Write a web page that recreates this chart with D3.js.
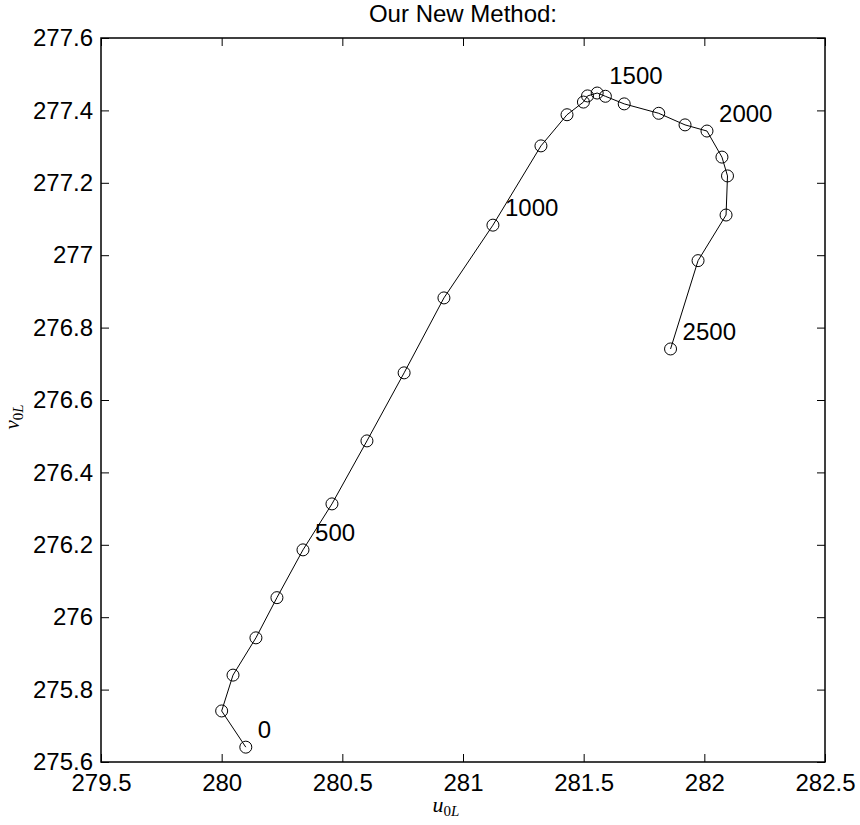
<!DOCTYPE html>
<html>
<head>
<meta charset="utf-8">
<script src="https://cdn.jsdelivr.net/npm/d3@7"></script>
<style>
  html, body { margin: 0; padding: 0; background: #fff; }
  svg { display: block; }
  .sans { font-family: "Liberation Sans", Arial, Helvetica, sans-serif; }
</style>
</head>
<body>
<script>
// Trajectory of (u0L, v0L) sampled every 100 iterations
const iterations = [0, 100, 200, 300, 400, 500, 600, 700, 800, 900, 1000, 1100, 1200,
                    1300, 1400, 1500, 1600, 1700, 1800, 1900, 2000, 2100, 2200, 2300, 2400, 2500];
const uValues = [280.100, 280.000, 280.047, 280.142, 280.229, 280.337, 280.457, 280.602,
                 280.756, 280.921, 281.124, 281.323, 281.431, 281.499, 281.516, 281.556,
                 281.590, 281.668, 281.811, 281.920, 282.011, 282.073, 282.096, 282.090,
                 281.974, 281.860];
const vValues = [275.641, 275.741, 275.840, 275.943, 276.054, 276.186, 276.313, 276.487,
                 276.675, 276.882, 277.083, 277.302, 277.388, 277.423, 277.440, 277.448,
                 277.439, 277.418, 277.392, 277.360, 277.343, 277.271, 277.219, 277.111,
                 276.985, 276.741];
const labeledIterations = [0, 500, 1000, 1500, 2000, 2500];
const xTicks = [279.5, 280, 280.5, 281, 281.5, 282, 282.5];
const yTicks = [275.6, 275.8, 276, 276.2, 276.4, 276.6, 276.8, 277, 277.2, 277.4, 277.6];

const W = 860, H = 825;
const plotL = 101, plotR = 825, plotT = 38, plotB = 762;
const tickLen = 8;

const svg = d3.select("body").append("svg").attr("width", W).attr("height", H);

const x = d3.scaleLinear().domain([279.5, 282.5]).range([plotL, plotR]);
const y = d3.scaleLinear().domain([275.6, 277.6]).range([plotB, plotT]);
const fmt = v => String(+v.toFixed(1));

// Axes with inward ticks on all four sides
const gx = svg.append("g").attr("transform", `translate(0,${plotB})`)
  .call(d3.axisBottom(x).tickValues(xTicks).tickFormat(fmt)
        .tickSizeInner(-tickLen).tickSizeOuter(0).tickPadding(12));
const gy = svg.append("g").attr("transform", `translate(${plotL},0)`)
  .call(d3.axisLeft(y).tickValues(yTicks).tickFormat(fmt)
        .tickSizeInner(-tickLen).tickSizeOuter(0).tickPadding(8));
const gt = svg.append("g").attr("transform", `translate(0,${plotT})`)
  .call(d3.axisTop(x).tickValues(xTicks).tickFormat("")
        .tickSizeInner(-tickLen).tickSizeOuter(0));
const gr = svg.append("g").attr("transform", `translate(${plotR},0)`)
  .call(d3.axisRight(y).tickValues(yTicks).tickFormat("")
        .tickSizeInner(-tickLen).tickSizeOuter(0));

[gx, gy, gt, gr].forEach(g => {
  g.select(".domain").remove();
  g.selectAll(".tick line").attr("stroke", "#000").attr("stroke-width", 1);
  g.selectAll(".tick text")
    .attr("class", "sans")
    .attr("font-size", 24)
    .attr("fill", "#000");
});

// Plot box
svg.append("rect")
  .attr("x", plotL).attr("y", plotT)
  .attr("width", plotR - plotL).attr("height", plotB - plotT)
  .attr("fill", "none").attr("stroke", "#000").attr("stroke-width", 1.5);

const pts = iterations.map((t, i) => ({ t, u: uValues[i], v: vValues[i] }));

// Trajectory line
svg.append("path")
  .datum(pts)
  .attr("fill", "none")
  .attr("stroke", "#000")
  .attr("stroke-width", 1)
  .attr("d", d3.line().x(d => x(d.u)).y(d => y(d.v)));

// Circle markers
svg.append("g").selectAll("circle")
  .data(pts)
  .join("circle")
  .attr("cx", d => x(d.u))
  .attr("cy", d => y(d.v))
  .attr("r", 6)
  .attr("fill", "none")
  .attr("stroke", "#000")
  .attr("stroke-width", 1);

// Iteration labels, offset slightly up and to the right of each point
svg.append("g").selectAll("text")
  .data(pts.filter(d => labeledIterations.includes(d.t)))
  .join("text")
  .attr("class", "sans")
  .attr("x", d => x(d.u + 0.05))
  .attr("y", d => y(d.v + 0.048))
  .attr("dy", "0.36em")
  .attr("font-size", 24)
  .attr("fill", "#000")
  .text(d => d.t);

// Title
svg.append("text")
  .attr("class", "sans")
  .attr("x", (plotL + plotR) / 2)
  .attr("y", 22)
  .attr("text-anchor", "middle")
  .attr("font-size", 24)
  .attr("fill", "#000")
  .text("Our New Method:");

// Axis labels (math style)
const serif = '"Liberation Serif", "Times New Roman", serif';
const xl = svg.append("text")
  .attr("x", 446).attr("y", 812)
  .attr("text-anchor", "middle")
  .attr("font-family", serif)
  .attr("font-size", 22)
  .attr("fill", "#000");
xl.append("tspan").attr("font-style", "italic").text("u");
xl.append("tspan").attr("font-size", 15).attr("dy", 4).text("0");
xl.append("tspan").attr("font-size", 15).attr("font-style", "italic").text("L");

const yl = svg.append("text")
  .attr("transform", "translate(19,417) rotate(-90)")
  .attr("text-anchor", "middle")
  .attr("font-family", serif)
  .attr("font-size", 21)
  .attr("fill", "#000");
yl.append("tspan").attr("font-style", "italic").text("v");
yl.append("tspan").attr("font-size", 15).attr("dy", 4).text("0");
yl.append("tspan").attr("font-size", 15).attr("font-style", "italic").text("L");
</script>
</body>
</html>
